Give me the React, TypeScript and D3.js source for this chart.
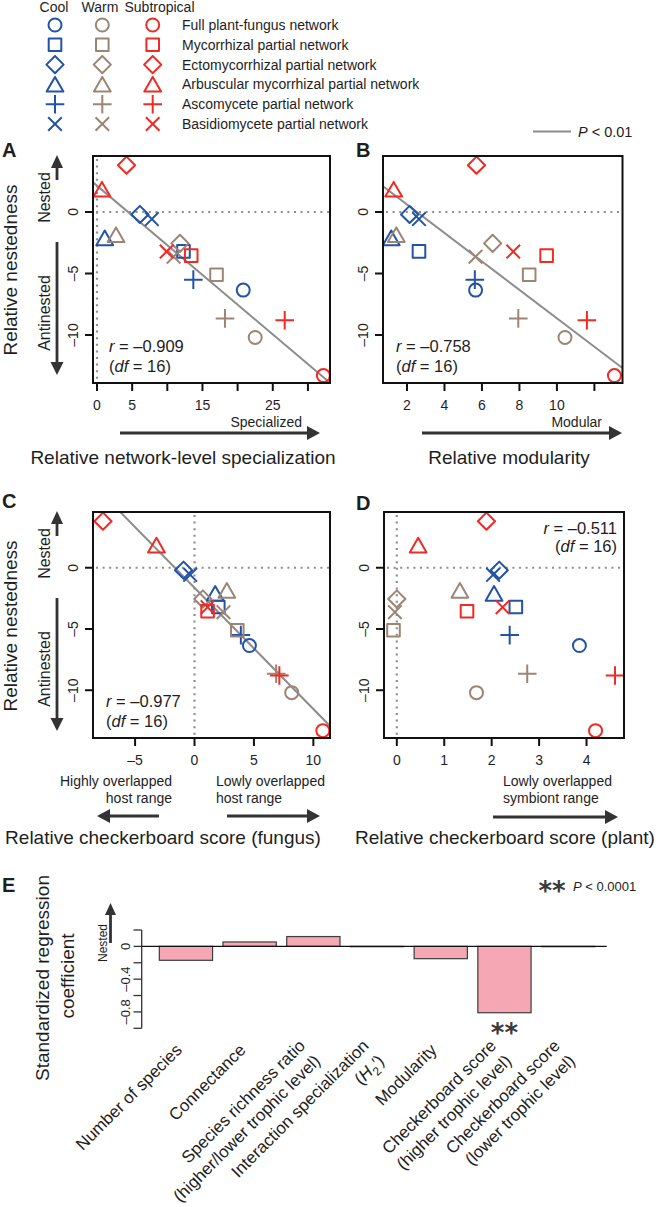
import React from "react";
import * as d3 from "d3";

const FONT = "'Liberation Sans', Arial, Helvetica, sans-serif";
const INK = "#1e1e1e";
const ARROW = "#333333";

// legend
const climates = ["Cool", "Warm", "Subtropical"];
const climateColors = ["#2353a6", "#9d8576", "#ef2b26"];
const networkTypes = [
  "Full plant-fungus network",
  "Mycorrhizal partial network",
  "Ectomycorrhizal partial network",
  "Arbuscular mycorrhizal partial network",
  "Ascomycete partial network",
  "Basidiomycete partial network",
];
const networkShapes = ["circle", "square", "diamond", "triangle", "plus", "cross"];

// 18 networks, ordered Cool x6, Warm x6, Subtropical x6 (same order as networkTypes)
const nestedness = [
  -6.35, -3.2, -0.2, -2.3, -5.5, -0.58,
  -10.2, -5.1, -2.55, -2.05, -8.65, -3.63,
  -13.3, -3.55, 3.8, 1.65, -8.8, -3.22,
];
const specialization = [
  20.8, 12.3, 6.1, 1.1, 13.7, 7.8,
  22.5, 17.0, 11.8, 2.7, 18.2, 10.9,
  32.2, 13.4, 4.2, 0.7, 26.7, 9.9,
];
const modularity = [
  5.66, 2.64, 2.14, 1.16, 5.62, 2.64,
  10.43, 8.52, 6.57, 1.43, 7.94, 5.66,
  13.07, 9.45, 5.71, 1.29, 11.6, 7.67,
];
const checkerFungus = [
  4.62, 2.0, -0.92, 1.74, 3.9, -0.36,
  8.18, 3.6, 0.7, 2.72, 6.87, 2.44,
  10.8, 1.1, -7.7, -3.2, 7.14, 1.1,
];
const checkerPlant = [
  3.85, 2.51, 2.16, 2.05, 2.38, 2.03,
  1.68, -0.07, 0.0, 1.33, 2.75, -0.04,
  4.19, 1.48, 1.89, 0.45, 4.6, 2.23,
];

const nestTicks = [0, -5, -10];
const nestTickLabels = ["0", "–5", "–10"];
const specTicks = [0, 5, 10, 15, 20, 25, 30];
const specTickLabels = ["0", "5", "", "15", "", "25", ""];
const modTicks = [2, 4, 6, 8, 10, 12];
const modTickLabels = ["2", "4", "6", "8", "10", ""];
const fungTicks = [-5, 0, 5, 10];
const fungTickLabels = ["–5", "0", "5", "10"];
const plantTicks = [0, 1, 2, 3, 4];
const plantTickLabels = ["0", "1", "2", "3", "4"];

// panel E
const predictors = [
  ["Number of species"],
  ["Connectance"],
  ["Species richness ratio", "(higher/lower trophic level)"],
  ["Interaction specialization", "(H2')"],
  ["Modularity"],
  ["Checkerboard score", "(higher trophic level)"],
  ["Checkerboard score", "(lower trophic level)"],
];
const coefficients = [-0.17, 0.054, 0.12, -0.004, -0.15, -0.81, -0.004];
const significant = [false, false, false, false, false, true, false];
const coefTicks = [0.2, 0, -0.2, -0.4, -0.6, -0.8, -1.0];
const coefTickLabels = ["", "0", "", "–0.4", "", "–0.8", ""];

// standardized major axis fit (line through the means, slope sign(r)*sy/sx)
function smaFit(xs, ys) {
  const mx = d3.mean(xs), my = d3.mean(ys);
  let sxy = 0, sxx = 0, syy = 0;
  xs.forEach((v, i) => {
    sxy += (v - mx) * (ys[i] - my);
    sxx += (v - mx) * (v - mx);
    syy += (ys[i] - my) * (ys[i] - my);
  });
  const b = Math.sign(sxy) * Math.sqrt(syy / sxx);
  return { a: my - b * mx, b };
}

function Marker({ shape, x, y, color }) {
  const p = { fill: "none", stroke: color, strokeWidth: 2, strokeLinejoin: "round" };
  if (shape === "circle") return <circle cx={x} cy={y} r={6.5} {...p} />;
  if (shape === "square") return <rect x={x - 6.3} y={y - 6.3} width={12.6} height={12.6} {...p} />;
  if (shape === "diamond") return <path d={`M${x},${y - 8.6}L${x + 8.6},${y}L${x},${y + 8.6}L${x - 8.6},${y}Z`} {...p} />;
  if (shape === "triangle") return <path d={`M${x},${y - 9.8}L${x + 8.4},${y + 4.9}L${x - 8.4},${y + 4.9}Z`} {...p} />;
  if (shape === "plus") return <path d={`M${x - 9.3},${y}H${x + 9.3}M${x},${y - 9.3}V${y + 9.3}`} {...p} />;
  return <path d={`M${x - 6.8},${y - 6.8}L${x + 6.8},${y + 6.8}M${x - 6.8},${y + 6.8}L${x + 6.8},${y - 6.8}`} {...p} />;
}

function Arrow({ x1, y1, x2, y2, head = 13, hw = 6.5, sw = 2.8, color = ARROW }) {
  const len = Math.hypot(x2 - x1, y2 - y1);
  const ux = (x2 - x1) / len, uy = (y2 - y1) / len;
  const bx = x2 - ux * head, by = y2 - uy * head;
  const px = -uy, py = ux;
  return (
    <g>
      <line x1={x1} y1={y1} x2={bx + ux} y2={by + uy} stroke={color} strokeWidth={sw} />
      <path d={`M${x2},${y2}L${bx + px * hw},${by + py * hw}L${bx - px * hw},${by - py * hw}Z`} fill={color} />
    </g>
  );
}

function VText({ x, y, size, children, anchor = "middle", ...rest }) {
  return (
    <text transform={`translate(${x},${y}) rotate(-90)`} textAnchor={anchor} fontSize={size} fill={INK} {...rest}>
      {children}
    </text>
  );
}

function Scatter({ id, xs, box, xDomain, ticks, tickLabels, fit, rText, rX, rAnchor, rY }) {
  const x = d3.scaleLinear().domain(xDomain).range([box.x0, box.x1]);
  const y = d3.scaleLinear().domain([-13.9, 4.55]).range([box.y1, box.y0]);
  const ln = fit ? smaFit(xs, nestedness) : null;
  const dot = { stroke: "#8e8e8e", strokeWidth: 2.2, strokeDasharray: "2 4.6" };
  return (
    <g>
      <defs>
        <clipPath id={`clip-${id}`}>
          <rect x={box.x0} y={box.y0} width={box.x1 - box.x0} height={box.y1 - box.y0} />
        </clipPath>
      </defs>
      <g clipPath={`url(#clip-${id})`}>
        {xDomain[0] < 0 && <line x1={x(0)} x2={x(0)} y1={box.y0 + 3} y2={box.y1} {...dot} />}
        <line x1={box.x0 + 3} x2={box.x1} y1={y(0)} y2={y(0)} {...dot} />
        {ln && (
          <line
            x1={x(xDomain[0])} y1={y(ln.a + ln.b * xDomain[0])}
            x2={x(xDomain[1])} y2={y(ln.a + ln.b * xDomain[1])}
            stroke="#8c8c8c" strokeWidth={2}
          />
        )}
        {xs.map((v, i) => (
          <Marker key={i} shape={networkShapes[i % 6]} color={climateColors[Math.floor(i / 6)]} x={x(v)} y={y(nestedness[i])} />
        ))}
      </g>
      <rect x={box.x0} y={box.y0} width={box.x1 - box.x0} height={box.y1 - box.y0} fill="none" stroke="#111" strokeWidth={2} />
      {ticks.map((t, i) => (
        <g key={t}>
          <line x1={x(t)} x2={x(t)} y1={box.y1} y2={box.y1 + 8} stroke="#111" strokeWidth={2} />
          <text x={x(t)} y={box.y1 + 27} textAnchor="middle" fontSize={14} fill={INK}>{tickLabels[i]}</text>
        </g>
      ))}
      {nestTicks.map((t, i) => (
        <g key={t}>
          <line x1={box.x0 - 8} x2={box.x0} y1={y(t)} y2={y(t)} stroke="#111" strokeWidth={2} />
          <VText x={box.x0 - 15} y={y(t)} size={14}>{nestTickLabels[i]}</VText>
        </g>
      ))}
      <text x={rX} y={rY[0]} textAnchor={rAnchor} fontSize={16.5} fill={INK}>
        <tspan fontStyle="italic">r</tspan> = {rText}
      </text>
      <text x={rX} y={rY[1]} textAnchor={rAnchor} fontSize={16.5} fill={INK}>
        (<tspan fontStyle="italic">df</tspan> = 16)
      </text>
    </g>
  );
}

function NestAxis({ top }) {
  return (
    <g>
      <VText x={17} y={top + 114} size={19}>Relative nestedness</VText>
      <Arrow x1={57} y1={top + 24} x2={57} y2={top - 1} hw={6} />
      <VText x={50} y={top + 41.5} size={16}>Nested</VText>
      <VText x={50} y={top + 157} size={16}>Antinested</VText>
      <Arrow x1={57} y1={top + 86} x2={57} y2={top + 219} hw={6.5} />
    </g>
  );
}

function Legend() {
  const cols = [55, 102.3, 152.7];
  const headX = [54, 100, 159.5];
  return (
    <g>
      {climates.map((c, j) => (
        <text key={c} x={headX[j]} y={12} textAnchor="middle" fontSize={14} fill={INK}>{c}</text>
      ))}
      {networkTypes.map((n, i) => {
        const ry = 25 + i * 19.8;
        const my = networkShapes[i] === "triangle" ? ry + 2.3 : ry;
        return (
          <g key={n}>
            {cols.map((cx, j) => (
              <Marker key={j} shape={networkShapes[i]} color={climateColors[j]} x={cx} y={my} />
            ))}
            <text x={182} y={ry + 5} fontSize={14} fill={INK}>{n}</text>
          </g>
        );
      })}
      <line x1={533} x2={571} y1={131.5} y2={131.5} stroke="#8c8c8c" strokeWidth={2} />
      <text x={578} y={137} fontSize={14.5} fill={INK}>
        <tspan fontStyle="italic">P</tspan> &lt; 0.01
      </text>
    </g>
  );
}

function Coefficients() {
  const x = d3.scaleBand().domain(d3.range(predictors.length)).range([154.1, 600]).paddingInner(0.164).paddingOuter(0.082);
  const y = d3.scaleLinear().domain([-1.0, 0.2]).range([1028.3, 930]);
  const bw = x.bandwidth();
  const lh = 21.5;
  return (
    <g>
      <text x={2} y={892} fontSize={20} fontWeight="bold" fill={INK}>E</text>
      <VText x={49} y={978} size={19}>Standardized regression</VText>
      <VText x={74} y={976} size={19}>coefficient</VText>
      <Arrow x1={110.5} y1={943} x2={110.5} y2={903} hw={5.5} head={12} />
      <VText x={107} y={943} size={12}>Nested</VText>
      <line x1={141.7} x2={141.7} y1={y(0.2)} y2={y(-1.0)} stroke="#333" strokeWidth={1.3} />
      {coefTicks.map((t, i) => (
        <g key={t}>
          <line x1={133.5} x2={141.7} y1={y(t)} y2={y(t)} stroke="#333" strokeWidth={1.3} />
          <VText x={130} y={y(t)} size={13}>{coefTickLabels[i]}</VText>
        </g>
      ))}
      {coefficients.map((v, i) => (
        <rect
          key={i}
          x={x(i)} width={bw}
          y={y(Math.max(0, v))} height={Math.abs(y(v) - y(0))}
          fill="#f5a8b3" stroke="#3d3d3d" strokeWidth={1.2}
        />
      ))}
      <line x1={141.7} x2={606.7} y1={y(0)} y2={y(0)} stroke="#111" strokeWidth={1.3} />
      {coefficients.map((v, i) =>
        significant[i] ? (
          <text key={i} x={x(i) + bw / 2} y={y(v) + 29} textAnchor="middle" fontSize={26} fontWeight="bold"
            fontFamily="'DejaVu Sans', sans-serif" fill="#3a3a3a">**</text>
        ) : null
      )}
      <text x={552} y={900} textAnchor="middle" fontSize={26} fontWeight="bold" fontFamily="'DejaVu Sans', sans-serif" fill="#3a3a3a">**</text>
      <text x={573} y={891} fontSize={13} fill={INK}>
        <tspan fontStyle="italic">P</tspan> &lt; 0.0001
      </text>
      {predictors.map((lines, i) => {
        const bc = x(i) + bw / 2;
        return (
          <g key={i} transform={`translate(${bc - 3},${1051}) rotate(-45)`}>
            {lines.map((s, k) => (
              <text key={k} x={0} y={k * lh - 6 * (lines.length - 1)} textAnchor="end" fontSize={17} fill={INK}>
                {s === "(H2')" ? (
                  <>
                    (<tspan fontStyle="italic">H</tspan>
                    <tspan fontSize={12} dy={5}>2</tspan>
                    <tspan dy={-5}>′)</tspan>
                  </>
                ) : s}
              </text>
            ))}
          </g>
        );
      })}
    </g>
  );
}

export default function App() {
  const boxA = { x0: 93, x1: 330, y0: 156, y1: 383 };
  const boxB = { x0: 383, x1: 622.5, y0: 156, y1: 383 };
  const boxC = { x0: 93, x1: 330, y0: 512, y1: 738 };
  const boxD = { x0: 384, x1: 624, y0: 512, y1: 738 };
  return (
    <svg width={660} height={1207} viewBox="0 0 660 1207" fontFamily={FONT}
      style={{ position: "absolute", left: 0, top: 0, background: "#fff" }}>
      <rect width={660} height={1207} fill="#fff" />
      <Legend />

      <text x={2} y={157} fontSize={20} fontWeight="bold" fill={INK}>A</text>
      <text x={356} y={157} fontSize={20} fontWeight="bold" fill={INK}>B</text>
      <text x={2} y={508} fontSize={20} fontWeight="bold" fill={INK}>C</text>
      <text x={356} y={510} fontSize={20} fontWeight="bold" fill={INK}>D</text>

      <NestAxis top={156} />
      <NestAxis top={512} />

      <Scatter id="a" xs={specialization} box={boxA} xDomain={[-0.57, 33.14]} ticks={specTicks} tickLabels={specTickLabels}
        fit rText="–0.909" rX={109} rAnchor="start" rY={[352, 372]} />
      <Scatter id="b" xs={modularity} box={boxB} xDomain={[0.72, 13.5]} ticks={modTicks} tickLabels={modTickLabels}
        fit rText="–0.758" rX={396} rAnchor="start" rY={[352, 372]} />
      <Scatter id="c" xs={checkerFungus} box={boxC} xDomain={[-8.54, 11.4]} ticks={fungTicks} tickLabels={fungTickLabels}
        fit rText="–0.977" rX={106} rAnchor="start" rY={[707, 727]} />
      <Scatter id="d" xs={checkerPlant} box={boxD} xDomain={[-0.27, 4.79]} ticks={plantTicks} tickLabels={plantTickLabels}
        fit={false} rText="–0.511" rX={617} rAnchor="end" rY={[533.5, 552]} />

      {/* A / B x titles */}
      <text x={302} y={427} textAnchor="end" fontSize={14} fill={INK}>Specialized</text>
      <Arrow x1={120} y1={433} x2={320} y2={433} hw={7} />
      <text x={183} y={464} textAnchor="middle" fontSize={19} fill={INK}>Relative network-level specialization</text>
      <text x={602} y={427} textAnchor="end" fontSize={14} fill={INK}>Modular</text>
      <Arrow x1={422} y1={433} x2={622} y2={433} hw={7} />
      <text x={509} y={464} textAnchor="middle" fontSize={19} fill={INK}>Relative modularity</text>

      {/* C / D x titles */}
      <text x={172} y={786} textAnchor="end" fontSize={14} fill={INK}>Highly overlapped</text>
      <text x={172} y={803} textAnchor="end" fontSize={14} fill={INK}>host range</text>
      <text x={216} y={786} fontSize={14} fill={INK}>Lowly overlapped</text>
      <text x={216} y={803} fontSize={14} fill={INK}>host range</text>
      <Arrow x1={159} y1={816} x2={97} y2={816} hw={7} />
      <Arrow x1={227} y1={816} x2={320} y2={816} hw={7} />
      <text x={163} y={844} textAnchor="middle" fontSize={19} fill={INK}>Relative checkerboard score (fungus)</text>
      <text x={503} y={786} fontSize={14} fill={INK}>Lowly overlapped</text>
      <text x={503} y={803} fontSize={14} fill={INK}>symbiont range</text>
      <Arrow x1={493} y1={817} x2={618} y2={817} hw={7} />
      <text x={505} y={844} textAnchor="middle" fontSize={19} fill={INK}>Relative checkerboard score (plant)</text>

      <Coefficients />
    </svg>
  );
}
